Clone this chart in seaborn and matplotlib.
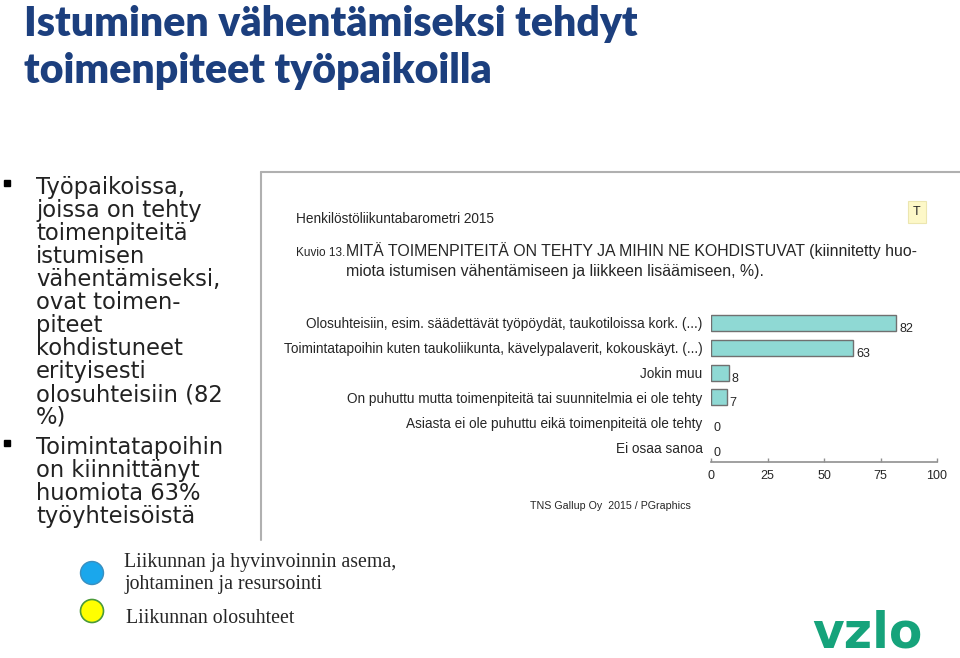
import matplotlib
matplotlib.use('Agg')
import matplotlib.pyplot as plt
import seaborn as sns
from matplotlib.patches import Ellipse, Rectangle
from matplotlib.lines import Line2D

# Data
categories = ['Olosuhteisiin, esim. säädettävät työpöydät, taukotiloissa kork. (...)',
              'Toimintatapoihin kuten taukoliikunta, kävelypalaverit, kokouskäyt. (...)',
              'Jokin muu',
              'On puhuttu mutta toimenpiteitä tai suunnitelmia ei ole tehty',
              'Asiasta ei ole puhuttu eikä toimenpiteitä ole tehty',
              'Ei osaa sanoa']
values = [82, 63, 8, 7, 0, 0]
x_ticks = [0, 25, 50, 75, 100]

slide_title = ['Istuminen vähentämiseksi tehdyt', 'toimenpiteet työpaikoilla']
bullet1 = ['Työpaikoissa,', 'joissa on tehty', 'toimenpiteitä', 'istumisen',
           'vähentämiseksi,', 'ovat toimen-', 'piteet', 'kohdistuneet',
           'erityisesti', 'olosuhteisiin (82', '%)']
bullet2 = ['Toimintatapoihin', 'on kiinnittänyt', 'huomiota 63%', 'työyhteisöistä']

sns.set_theme(style='white')
plt.rcParams['font.family'] = ['Liberation Sans', 'DejaVu Sans']

W, H = 960, 658
fig = plt.figure(figsize=(W / 100, H / 100), dpi=100)
fig.patch.set_facecolor('white')

def px(x, y):
    return x / W, 1 - y / H

narrow = ['Liberation Sans', 'DejaVu Sans']
gothic = ['DejaVu Sans']

# slide title
for i, line in enumerate(slide_title):
    fig.text(*px(24, 36 + i * 47), line, fontsize=29.5, fontweight='heavy',
             color='#1c3f7e', family=['Lato', 'DejaVu Sans'], va='baseline')

# bullets
y = 194
for block in (bullet1, bullet2):
    fig.patches.append(Rectangle(px(4, y - 8), 6 / W, 6 / H, transform=fig.transFigure,
                                 color='black'))
    for line in block:
        fig.text(*px(36, y), line, fontsize=16.3, color='#222222', family=gothic,
                 va='baseline')
        y += 23
    y += 7

# legend circles
fig.patches.append(Ellipse(px(92, 573), 23 / W, 23 / H, transform=fig.transFigure,
                           facecolor='#1aa7ec', edgecolor='#3a8fc0', lw=1))
fig.patches.append(Ellipse(px(92, 611), 23 / W, 23 / H, transform=fig.transFigure,
                           facecolor='#ffff00', edgecolor='#4a9a3a', lw=1.2))
serif = ['Liberation Serif', 'DejaVu Serif']
fig.text(*px(124, 567), 'Liikunnan ja hyvinvoinnin asema,', fontsize=14.3,
         family=serif, va='baseline')
fig.text(*px(124, 589), 'johtaminen ja resursointi', fontsize=14.3,
         family=serif, va='baseline')
fig.text(*px(126, 623), 'Liikunnan olosuhteet', fontsize=14.3,
         family=serif, va='baseline')

# logo
fig.text(*px(812, 648), 'vzlo', fontsize=35, fontweight='bold', color='#16a37b',
         family=['DejaVu Sans'], va='baseline')

# panel frame
fig.lines.append(Line2D([261 / W, 1], [1 - 172 / H, 1 - 172 / H],
                        transform=fig.transFigure, color='#b0b0b0', lw=1.5))
fig.lines.append(Line2D([261 / W, 261 / W], [1 - 172 / H, 1 - 540 / H],
                        transform=fig.transFigure, color='#b0b0b0', lw=1.5))

# panel header
fig.text(*px(296, 223), 'Henkilöstöliikuntabarometri 2015', fontsize=9.8,
         family=narrow, va='baseline')
fig.text(*px(296, 256), 'Kuvio 13.', fontsize=8.5, family=narrow, va='baseline')
fig.text(*px(346, 256), 'MITÄ TOIMENPITEITÄ ON TEHTY JA MIHIN NE KOHDISTUVAT (kiinnitetty huo-',
         fontsize=11.4, family=narrow, va='baseline')
fig.text(*px(346, 276), 'miota istumisen vähentämiseen ja liikkeen lisäämiseen, %).',
         fontsize=11.4, family=narrow, va='baseline')
fig.text(*px(917, 212), 'T', fontsize=9, family=narrow, ha='center', va='center',
         bbox=dict(boxstyle='square,pad=0.4', fc='#fdf8c8', ec='#ece6b0', lw=0.8))
fig.text(*px(610, 509), 'TNS Gallup Oy  2015 / PGraphics', fontsize=7.7,
         family=narrow, ha='center', va='baseline')

# chart
ax = fig.add_axes([711 / W, 1 - 462 / H, 226 / W, 154 / H])
sns.barplot(x=values, y=categories, ax=ax, color='#8fd9d4', saturation=1,
            edgecolor='#707070', linewidth=1, width=0.64)
for p in ax.patches:
    if p.get_width() == 0:
        p.set_visible(False)
ax.set_xlim(0, 100)
ax.set_ylim(5.6, -0.6)
ax.set_xticks(x_ticks)
for s in ['top', 'right', 'left']:
    ax.spines[s].set_visible(False)
ax.spines['bottom'].set_color('#909090')
ax.spines['bottom'].set_linewidth(1.2)
ax.tick_params(axis='x', direction='in', length=3, color='#909090', width=1,
               labelsize=9, pad=6, bottom=True)
ax.tick_params(axis='y', length=0, labelsize=9.8, pad=6)
for t in ax.get_xticklabels() + ax.get_yticklabels():
    t.set_family(narrow)
ax.set_facecolor('none')
ax.grid(False)
for c in ax.containers:
    labels = ax.bar_label(c, padding=2, fontsize=9, family=narrow)
    for lb in labels:
        lb.set_va('top')

fig.savefig('out.png', dpi=100)
